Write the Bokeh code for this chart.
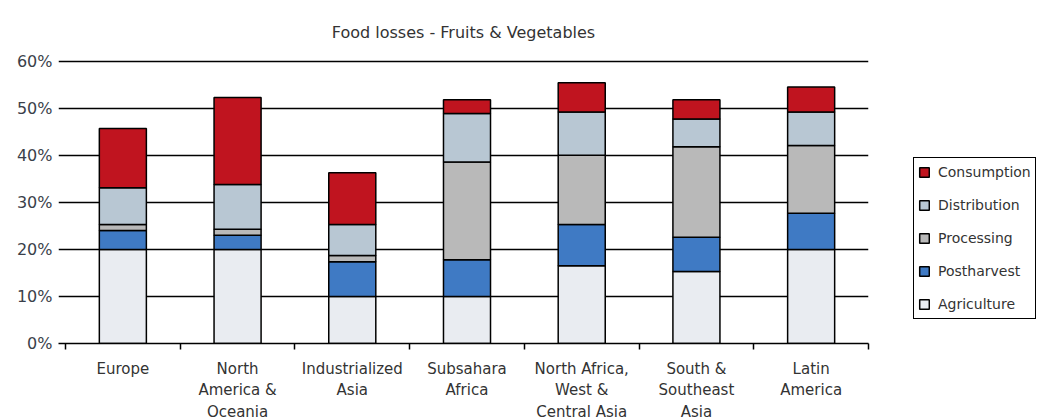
from bokeh.plotting import figure
from bokeh.models import (ColumnDataSource, Range1d, FixedTicker, Legend, LegendItem)
from bokeh.embed import file_html
from bokeh.resources import INLINE

regions = ["Europe", "North\nAmerica &\nOceania", "Industrialized\nAsia", "Subsahara\nAfrica",
           "North Africa,\nWest &\nCentral Asia", "South &\nSoutheast\nAsia", "Latin\nAmerica"]
stages = ["Agriculture", "Postharvest", "Processing", "Distribution", "Consumption"]
agriculture = [20.0, 20.0, 10.0, 10.0, 16.5, 15.3, 20.0]
postharvest = [4.0, 3.0, 7.4, 7.8, 8.8, 7.3, 7.7]
processing = [1.3, 1.3, 1.3, 20.8, 14.7, 19.2, 14.4]
distribution = [7.8, 9.5, 6.6, 10.3, 9.2, 5.9, 7.1]
consumption = [12.6, 18.5, 11.0, 2.9, 6.2, 4.1, 5.3]
y_ticks = [0, 10, 20, 30, 40, 50, 60]
y_labels = ["0%", "10%", "20%", "30%", "40%", "50%", "60%"]

bar_colors = ["#e9ecf1", "#3f7ac4", "#b9b9b9", "#b8c7d3", "#c0141f"]

n = len(regions)
centers = [i + 0.5 for i in range(n)]
bounds = list(range(n + 1))

src = ColumnDataSource(dict(x=centers, Agriculture=agriculture, Postharvest=postharvest,
                            Processing=processing, Distribution=distribution,
                            Consumption=consumption))

FONT = "DejaVu Sans"
p = figure(frame_width=810, frame_height=287, output_backend="svg", toolbar_location=None,
           x_range=Range1d(-0.061, n), y_range=Range1d(0, 61),
           min_border_left=58, min_border_right=173, min_border_top=56, min_border_bottom=76,
           title="Food losses - Fruits & Vegetables")
p.outline_line_color = None
p.background_fill_color = "white"
p.border_fill_color = "white"

p.title.align = "center"
p.title.text_font = FONT
p.title.text_font_size = "16px"
p.title.text_font_style = "normal"
p.title.text_color = "#333333"
p.title.standoff = 30

renderers = p.vbar_stack(stages, x="x", width=0.41, source=src, fill_color=bar_colors,
                         line_color="black", line_width=1.5)

# x axis
xa = p.xaxis[0]
xa.ticker = FixedTicker(ticks=centers, minor_ticks=bounds)
xa.major_label_overrides = {c: r for c, r in zip(centers, regions)}
xa.major_tick_out = 0
xa.major_tick_in = 0
xa.minor_tick_out = 6
xa.minor_tick_in = 0
xa.minor_tick_line_width = 1.5
xa.minor_tick_line_color = "black"
xa.axis_line_color = "black"
xa.axis_line_width = 1.5
xa.major_label_text_font = FONT
xa.major_label_text_font_size = "15px"
xa.major_label_text_color = "#333333"
xa.major_label_text_line_height = 1.2
xa.major_label_standoff = 10

# y axis
ya = p.yaxis[0]
ya.ticker = FixedTicker(ticks=y_ticks)
ya.major_label_overrides = {t: l for t, l in zip(y_ticks, y_labels)}
ya.axis_line_color = None
ya.major_tick_line_color = None
ya.major_tick_out = 0
ya.major_tick_in = 0
ya.minor_tick_line_color = None
ya.major_label_text_font = FONT
ya.major_label_text_font_size = "16px"
ya.major_label_text_color = "#3a3f4a"
ya.major_label_standoff = 6

p.xgrid.grid_line_color = None
p.ygrid.ticker = FixedTicker(ticks=y_ticks[1:])
p.ygrid.grid_line_color = "black"
p.ygrid.grid_line_width = 1.5

# legend (top to bottom: Consumption first)
items = [LegendItem(label=s, renderers=[r]) for s, r in zip(stages, renderers)][::-1]
legend = Legend(items=items, location=(45, 24), orientation="vertical",
                label_text_font=FONT, label_text_font_size="14px", label_text_color="#333333",
                glyph_width=12, glyph_height=12, label_height=20, spacing=13,
                padding=4, margin=0, label_standoff=8,
                border_line_color="black", border_line_width=1.5, border_line_alpha=1.0,
                background_fill_color="white", background_fill_alpha=1.0)
p.add_layout(legend, "right")

open("out.html", "w").write(file_html(p, INLINE))
